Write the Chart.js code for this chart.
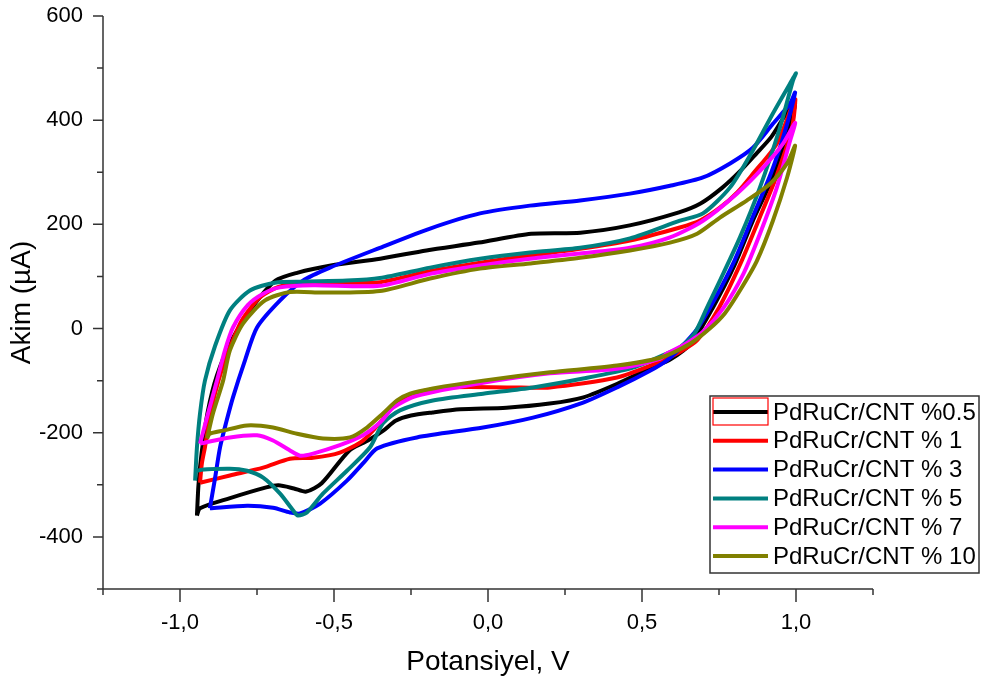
<!DOCTYPE html>
<html>
<head>
<meta charset="utf-8">
<script src="https://cdn.jsdelivr.net/npm/chart.js@4.4.0/dist/chart.umd.min.js"></script>
<style>
  html, body { margin: 0; padding: 0; background: #fff; }
</style>
</head>
<body>
<canvas id="cv" width="984" height="684"></canvas>
<script>
// voltammograms: potential (V) and current (µA) for each Cr loading
const seriesNames = ["PdRuCr/CNT %0.5", "PdRuCr/CNT % 1", "PdRuCr/CNT % 3",
                     "PdRuCr/CNT % 5", "PdRuCr/CNT % 7", "PdRuCr/CNT % 10"];
const seriesColors = ["#000000", "#ff0000", "#0000ff", "#008080", "#ff00ff", "#808000"];

const v05 = [-0.945, -0.94, -0.93, -0.91, -0.88, -0.83, -0.76, -0.69, -0.62, -0.51, -0.35, -0.2, -0.03, 0.14, 0.30, 0.46, 0.62, 0.69, 0.76, 0.82, 0.87, 0.92, 0.96, 0.997,
             0.965, 0.92, 0.86, 0.80, 0.73, 0.66, 0.59, 0.53, 0.42, 0.31, 0.20, 0.06, -0.09, -0.18, -0.25, -0.30, -0.34, -0.39, -0.45, -0.54, -0.59, -0.63, -0.68, -0.72, -0.84, -0.935, -0.945];
const i05 = [-359, -300, -240, -160, -90, -20, 45, 92, 107, 121, 134, 150, 165, 182, 184, 198, 223, 240, 270, 303, 335, 368, 405, 432,
             361, 284, 207, 121, 40, -28, -60, -75, -106, -132, -144, -152, -155, -161, -167, -177, -196, -215, -234, -297, -313, -307, -301, -305, -326, -345, -359];

const v1 = [-0.935, -0.929, -0.919, -0.90, -0.875, -0.84, -0.80, -0.74, -0.68, -0.60, -0.46, -0.35, -0.19, -0.03, 0.136, 0.299, 0.461, 0.623, 0.69, 0.753, 0.81, 0.86, 0.938, 0.99, 0.998,
            0.985, 0.935, 0.88, 0.82, 0.75, 0.68, 0.62, 0.558, 0.419, 0.201, 0.071, -0.123, -0.231, -0.308, -0.35, -0.406, -0.481, -0.568, -0.643, -0.73, -0.838, -0.935];
const i1 = [-296, -259, -228, -160, -100, -40, 15, 60, 80, 88, 88, 89, 110, 126, 140, 153, 169, 194, 208, 232, 262, 297, 355, 432, 440,
            380, 290, 210, 125, 40, -22, -46, -64, -94, -113, -113, -113, -123, -148, -180, -215, -238, -248, -250, -267, -282, -296];

const v3 = [-0.903, -0.887, -0.87, -0.85, -0.828, -0.789, -0.75, -0.675, -0.601, -0.513, -0.351, -0.188, -0.026, 0.136, 0.299, 0.461, 0.591, 0.698, 0.786, 0.86, 0.925, 0.981, 0.997,
            0.965, 0.92, 0.86, 0.80, 0.735, 0.68, 0.62, 0.581, 0.526, 0.419, 0.309, 0.146, -0.016, -0.231, -0.36, -0.40, -0.458, -0.545, -0.61, -0.643, -0.698, -0.782, -0.903];
const i3 = [-345, -290, -228, -180, -132, -61, 2, 54, 92, 117, 155, 192, 221, 236, 246, 259, 274, 290, 317, 347, 393, 432, 453,
            380, 300, 215, 130, 55, 0, -40, -61, -81, -113, -142, -171, -190, -209, -230, -255, -292, -336, -355, -353, -344, -340, -345];

const v5 = [-0.951, -0.945, -0.935, -0.919, -0.886, -0.838, -0.773, -0.692, -0.60, -0.458, -0.351, -0.188, -0.026, 0.136, 0.299, 0.461, 0.623, 0.698, 0.786, 0.86, 0.925, 0.99, 1.0,
            0.99, 0.948, 0.883, 0.818, 0.753, 0.711, 0.67, 0.623, 0.581, 0.471, 0.309, 0.146, -0.016, -0.179, -0.286, -0.341, -0.383, -0.458, -0.536, -0.588, -0.617, -0.633, -0.675, -0.73, -0.782, -0.838, -0.945, -0.951];
const i5 = [-292, -228, -163, -100, -33, 35, 73, 88, 90, 92, 97, 117, 134, 146, 155, 173, 207, 221, 271, 342, 413, 480, 490,
            476, 386, 271, 175, 92, 40, -10, -36, -48, -75, -96, -113, -125, -138, -157, -182, -228, -273, -317, -353, -359, -349, -317, -286, -273, -269, -273, -292];

const v7 = [-0.935, -0.909, -0.88, -0.854, -0.828, -0.78, -0.73, -0.675, -0.568, -0.351, -0.188, -0.026, 0.136, 0.299, 0.461, 0.591, 0.698, 0.808, 0.893, 0.958, 0.997,
            0.981, 0.938, 0.883, 0.83, 0.765, 0.70, 0.64, 0.581, 0.558, 0.419, 0.201, -0.016, -0.231, -0.308, -0.35, -0.406, -0.481, -0.568, -0.61, -0.643, -0.698, -0.75, -0.838, -0.935];
const i7 = [-221, -163, -100, -42, 2, 45, 67, 79, 83, 82, 105, 121, 134, 144, 155, 175, 207, 259, 309, 355, 395,
            361, 271, 182, 106, 40, -5, -30, -48, -58, -77, -86, -104, -129, -152, -180, -205, -224, -240, -244, -234, -215, -205, -209, -221];

const v10 = [-0.912, -0.893, -0.86, -0.838, -0.795, -0.724, -0.643, -0.536, -0.351, -0.188, -0.026, 0.136, 0.299, 0.461, 0.591, 0.679, 0.753, 0.841, 0.916, 0.971, 0.997,
             0.971, 0.925, 0.873, 0.82, 0.77, 0.72, 0.656, 0.558, 0.419, 0.201, -0.016, -0.179, -0.253, -0.295, -0.341, -0.393, -0.448, -0.536, -0.62, -0.698, -0.782, -0.86, -0.903, -0.912];
const i10 = [-211, -163, -100, -42, 10, 54, 70, 69, 72, 96, 115, 125, 136, 150, 165, 182, 213, 246, 278, 317, 351,
             290, 207, 130, 75, 30, 0, -29, -56, -71, -84, -100, -115, -125, -138, -163, -190, -209, -211, -202, -190, -186, -196, -202, -211];

const xTicksMin = -1.25, xTicksMax = 1.25, xStep = 0.25;
const yTicksMin = -500, yTicksMax = 600, yStep = 100;

const loops = [[v05, i05], [v1, i1], [v3, i3], [v5, i5], [v7, i7], [v10, i10]];

const datasets = loops.map(([vs, is], k) => ({
  label: seriesNames[k],
  data: vs.map((v, j) => ({ x: v, y: is[j] })),
  borderColor: seriesColors[k],
  backgroundColor: seriesColors[k],
  borderWidth: 4,
  pointRadius: 0,
  showLine: true,
  tension: 0.25,
  fill: false,
  order: loops.length - k
}));

const isMajorX = v => Math.abs(v * 2 - Math.round(v * 2)) < 1e-6;
const isMajorY = v => Math.abs(v % 200) < 1e-6;

// axis lines with long/short tick marks
const axisLines = {
  id: "axisLines",
  afterDraw(chart) {
    const { ctx, chartArea: a, scales: { x, y } } = chart;
    ctx.save();
    ctx.strokeStyle = "#333";
    ctx.lineWidth = 1.5;
    ctx.beginPath();
    ctx.moveTo(a.left, a.top);
    ctx.lineTo(a.left, a.bottom);
    ctx.lineTo(a.right, a.bottom);
    y.ticks.forEach(t => {
      const py = y.getPixelForValue(t.value);
      const len = isMajorY(t.value) ? 10 : 6;
      ctx.moveTo(a.left - len, py);
      ctx.lineTo(a.left, py);
    });
    x.ticks.forEach(t => {
      const px = x.getPixelForValue(t.value);
      const len = isMajorX(t.value) ? 13 : 6;
      ctx.moveTo(px, a.bottom);
      ctx.lineTo(px, a.bottom + len);
    });
    ctx.stroke();
    ctx.restore();
  }
};

// boxed legend in the lower right corner
const boxLegend = {
  id: "boxLegend",
  afterDraw(chart) {
    const ctx = chart.ctx;
    const left = 710, top = 396, w = 269, h = 177, row = 28.8;
    ctx.save();
    ctx.fillStyle = "#fff";
    ctx.fillRect(left, top, w, h);
    ctx.strokeStyle = "#333";
    ctx.lineWidth = 1.5;
    ctx.strokeRect(left, top, w, h);
    ctx.font = "24px 'Liberation Sans', Arial, sans-serif";
    ctx.textBaseline = "middle";
    chart.data.datasets.forEach((ds, k) => {
      const cy = top + 16 + k * row;
      ctx.strokeStyle = ds.borderColor;
      ctx.lineWidth = 4;
      ctx.beginPath();
      ctx.moveTo(left + 3, cy);
      ctx.lineTo(left + 58, cy);
      ctx.stroke();
      ctx.fillStyle = "#000";
      ctx.fillText(ds.label, left + 63, cy + 1);
    });
    // selection frame around the first sample
    ctx.strokeStyle = "#ff0000";
    ctx.lineWidth = 1.2;
    ctx.strokeRect(left + 3, top + 2, 55, 27);
    ctx.restore();
  }
};

const tickFont = { family: "'Liberation Sans', Arial, sans-serif", size: 22 };
const titleFont = { family: "'Liberation Sans', Arial, sans-serif", size: 28 };

new Chart(document.getElementById("cv"), {
  type: "scatter",
  data: { datasets },
  options: {
    responsive: false,
    animation: false,
    layout: { padding: { left: 0, top: 0, right: 111, bottom: 0 } },
    plugins: { legend: { display: false }, tooltip: { enabled: false } },
    scales: {
      x: {
        type: "linear",
        min: xTicksMin, max: xTicksMax,
        grid: { display: false, drawTicks: false },
        border: { display: false },
        ticks: {
          stepSize: xStep, autoSkip: false, maxRotation: 0, padding: 21,
          color: "#000", font: tickFont,
          callback: v => isMajorX(v) ? v.toFixed(1).replace(".", ",").replace("-0,0", "0,0") : ""
        },
        title: { display: true, text: "Potansiyel, V", color: "#000", font: titleFont, padding: { top: 0, bottom: 5 } },
        afterFit: s => { s.height = 95; s.paddingLeft = 0; s.paddingRight = 0; }
      },
      y: {
        type: "linear",
        min: yTicksMin, max: yTicksMax,
        grid: { display: false, drawTicks: false },
        border: { display: false },
        ticks: {
          stepSize: yStep, autoSkip: false, padding: 20,
          color: "#000", font: tickFont,
          callback: v => isMajorY(v) ? String(v) : ""
        },
        title: { display: true, text: "Akim (µA)", color: "#000", font: titleFont, padding: { top: 5, bottom: 0 } },
        afterFit: s => { s.width = 103; s.paddingTop = 16; s.paddingBottom = 0; }
      }
    }
  },
  plugins: [axisLines, boxLegend]
});
</script>
</body>
</html>
